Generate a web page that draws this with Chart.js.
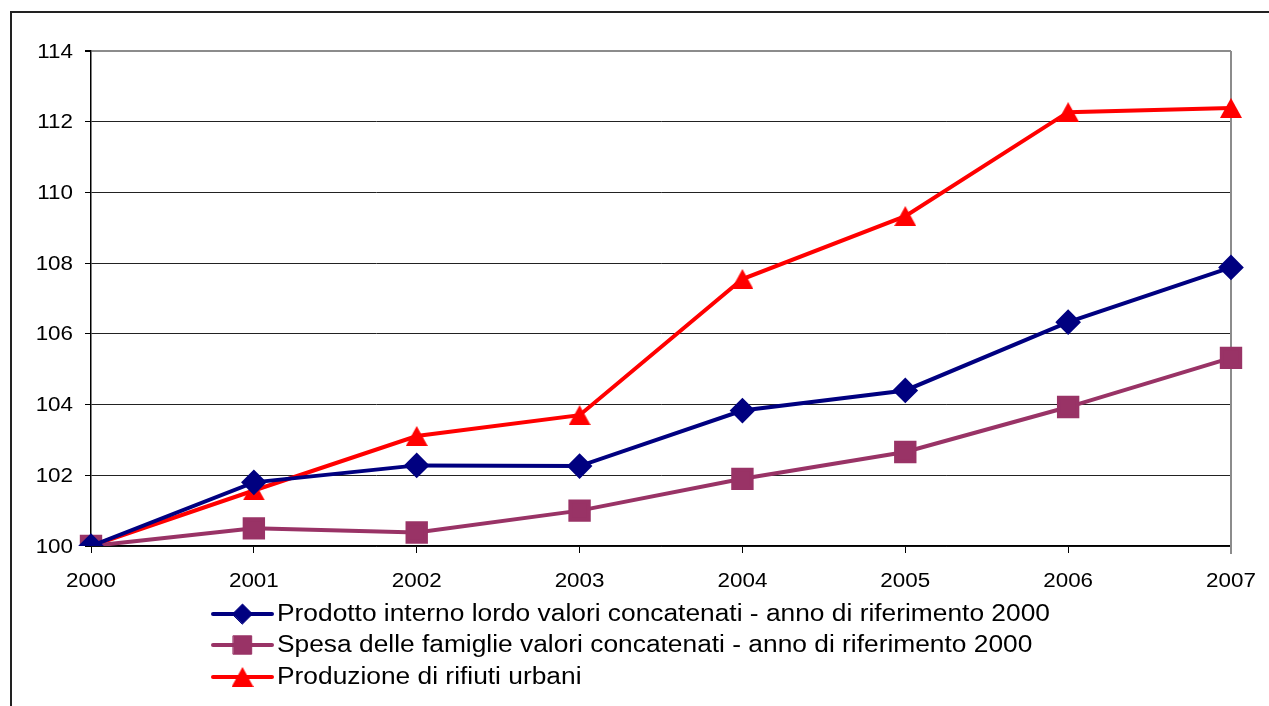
<!DOCTYPE html>
<html>
<head>
<meta charset="utf-8">
<script src="https://cdn.jsdelivr.net/npm/chart.js@4"></script>
<style>
    html, body { margin: 0; padding: 0; background: #fff; overflow: hidden; }
    #wrap { position: relative; width: 1269px; height: 706px; }
    #frame { position: absolute; left: 10px; top: 11px; width: 1300px; height: 760px; border-left: 2px solid #222; border-top: 2px solid #222; }
    canvas { position: absolute; left: 0; top: 0; }
</style>
</head>
<body>
<div id="wrap">
    <div id="frame"></div>
    <canvas id="chart" width="1269" height="706"></canvas>
</div>
<script>
const anni = ['2000', '2001', '2002', '2003', '2004', '2005', '2006', '2007'];
const pil = [100, 101.8, 102.28, 102.26, 103.83, 104.4, 106.33, 107.88];
const spesa = [100, 100.5, 100.38, 101.0, 101.9, 102.66, 103.93, 105.32];
const rifiuti = [100, 101.57, 103.11, 103.7, 107.55, 109.33, 112.27, 112.39];
const yTicks = [100, 102, 104, 106, 108, 110, 112, 114];

const FONT = '"Liberation Sans", Arial, sans-serif';
const STRETCH = 1.12; // the text is a bit wider than plain Arial

// triangle marker centred on its bounding box (the built-in one sits on the centroid)
function triangleMarker(color, w, h) {
    const c = document.createElement('canvas');
    c.width = w;
    c.height = h;
    const g = c.getContext('2d');
    g.fillStyle = color;
    g.beginPath();
    g.moveTo(w / 2, 0);
    g.lineTo(w, h);
    g.lineTo(0, h);
    g.closePath();
    g.fill();
    return c;
}
const tri = triangleMarker('#ff0000', 22, 20);

function wideText(ctx, text, x, y, align, sx) {
    ctx.save();
    ctx.translate(x, y);
    ctx.scale(sx, 1);
    ctx.textAlign = align;
    ctx.textBaseline = 'middle';
    ctx.fillText(text, 0, 0);
    ctx.restore();
}

// axis labels, placed from the scales' own tick positions
const tickLabels = {
    id: 'tickLabels',
    afterDraw(chart) {
        const ctx = chart.ctx;
        const xs = chart.scales.x, ys = chart.scales.y;
        ctx.save();
        ctx.fillStyle = '#000';
        ctx.font = '20px ' + FONT;
        ys.ticks.forEach(t => wideText(ctx, String(t.value), ys.right - 18, ys.getPixelForValue(t.value) + 1, 'right', STRETCH));
        xs.ticks.forEach((t, i) => wideText(ctx, xs.getLabelForValue(t.value), xs.getPixelForTick(i), xs.top + 35, 'center', STRETCH));
        ctx.restore();
    }
};

// legend stacked under the plot, marker on a short line segment
const legendPlugin = {
    id: 'stackLegend',
    afterDraw(chart) {
        const ctx = chart.ctx;
        const x0 = 213, x1 = 272, tx = 277;
        const rows = [614, 645, 677];
        chart.data.datasets.forEach((ds, i) => {
            const y = rows[i];
            ctx.save();
            ctx.strokeStyle = ds.borderColor;
            ctx.lineWidth = 4;
            ctx.lineCap = 'round';
            ctx.beginPath();
            ctx.moveTo(x0, y);
            ctx.lineTo(x1, y);
            ctx.stroke();
            ctx.fillStyle = ds.pointBackgroundColor;
            ctx.strokeStyle = ds.pointBorderColor;
            ctx.lineWidth = 1;
            Chart.helpers.drawPoint(ctx, { pointStyle: ds.pointStyle, radius: ds.pointRadius, rotation: 0, borderWidth: 1 }, (x0 + x1) / 2, y);
            ctx.fillStyle = '#000';
            ctx.font = '23px ' + FONT;
            wideText(ctx, ds.label, tx, y + 1, 'left', 1.145);
            ctx.restore();
        });
    }
};

// gray border on the right side of the plot area
const plotBorder = {
    id: 'plotBorder',
    beforeDatasetsDraw(chart) {
        const { ctx, chartArea: a } = chart;
        ctx.save();
        ctx.strokeStyle = '#8c8c8c';
        ctx.lineWidth = 2;
        ctx.beginPath();
        ctx.moveTo(a.right, a.top);
        ctx.lineTo(a.right, a.bottom + 8);
        ctx.stroke();
        ctx.restore();
    }
};

new Chart(document.getElementById('chart'), {
    type: 'line',
    data: {
        labels: anni,
        datasets: [
            {
                label: 'Prodotto interno lordo valori concatenati - anno di riferimento 2000',
                data: pil,
                borderColor: '#000080',
                backgroundColor: '#000080',
                pointBackgroundColor: '#000080',
                pointBorderColor: '#000080',
                pointStyle: 'rectRot',
                pointRadius: 10,
                borderWidth: 4
            },
            {
                label: 'Spesa delle famiglie valori concatenati - anno di riferimento 2000',
                data: spesa,
                borderColor: '#993366',
                backgroundColor: '#993366',
                pointBackgroundColor: '#993366',
                pointBorderColor: '#993366',
                pointStyle: 'rect',
                pointRadius: 13,
                borderWidth: 4
            },
            {
                label: 'Produzione di rifiuti urbani',
                data: rifiuti,
                borderColor: '#ff0000',
                backgroundColor: '#ff0000',
                pointBackgroundColor: '#ff0000',
                pointBorderColor: '#ff0000',
                pointStyle: tri,
                pointRadius: 12,
                borderWidth: 4
            }
        ]
    },
    options: {
        responsive: false,
        animation: false,
        layout: { padding: { left: 0, right: 38, top: 51, bottom: 110 } },
        plugins: {
            legend: { display: false },
            tooltip: { enabled: false }
        },
        elements: {
            line: { tension: 0 },
            point: { borderWidth: 1, hoverRadius: 10 }
        },
        scales: {
            x: {
                type: 'category',
                offset: false,
                afterFit(s) { s.height = 50; },
                grid: { drawOnChartArea: false, tickLength: 7, color: '#000', tickWidth: 1 },
                border: { color: '#000', width: 1.5 },
                ticks: { color: 'rgba(0,0,0,0)', font: { family: FONT, size: 20 }, padding: 15, maxRotation: 0, autoSkip: false }
            },
            y: {
                min: 100,
                max: 114,
                afterFit(s) { s.width = 91; },
                afterBuildTicks(s) { s.ticks = yTicks.map(v => ({ value: v })); },
                grid: {
                    color: c => c.tick && c.tick.value === 114 ? '#8c8c8c' : '#222',
                    lineWidth: c => c.tick && c.tick.value === 114 ? 2 : 1,
                    tickLength: 6,
                    tickColor: '#000'
                },
                border: { color: '#000', width: 1.5 },
                ticks: { color: 'rgba(0,0,0,0)', font: { family: FONT, size: 20 }, padding: 12 }
            }
        }
    },
    plugins: [plotBorder, tickLabels, legendPlugin]
});
</script>
</body>
</html>
